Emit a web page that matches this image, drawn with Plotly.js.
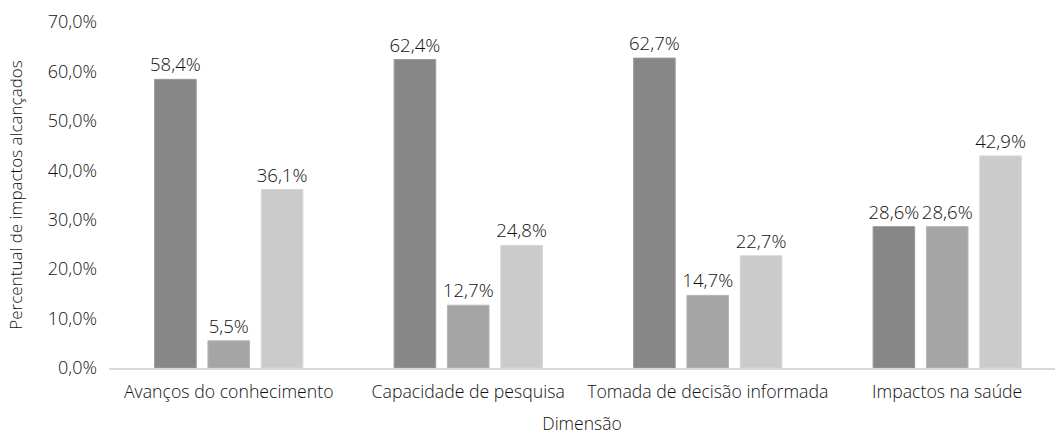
<!DOCTYPE html>
<html>
<head>
<meta charset="utf-8">
<script src="https://cdn.plot.ly/plotly-3.0.1.min.js"></script>
<style>html,body{margin:0;padding:0;background:#fff}#chart{width:1055px;height:435px}</style>
</head>
<body>
<div id="chart"></div>
<script>
const categories = ["Avanços do conhecimento", "Capacidade de pesquisa", "Tomada de decisão informada", "Impactos na saúde"];
const serie1 = [0.584, 0.624, 0.627, 0.286];
const serie2 = [0.055, 0.127, 0.147, 0.286];
const serie3 = [0.361, 0.248, 0.227, 0.429];
const yTickVals = [0, 0.1, 0.2, 0.3, 0.4, 0.5, 0.6, 0.7];

const fontFam = "Open Sans, Noto Sans, sans-serif";
const txtColor = "#111111";

function mk(vals, color, line) {
  return {
    type: "bar", x: categories, y: vals,
    marker: {color: color, line: {color: line, width: 1}},
    texttemplate: "%{y:.1%}", textposition: "outside", cliponaxis: false,
    constraintext: "none",
    textfont: {family: fontFam, size: 18.6, color: txtColor, weight: 300},
    hoverinfo: "skip", showlegend: false
  };
}

const data = [
  mk(serie1, "#878787", "#9a9a9a"),
  mk(serie2, "#a5a5a5", "#b5b5b5"),
  mk(serie3, "#cbcbcb", "#d6d6d6")
];

const layout = {
  width: 1055, height: 435,
  margin: {l: 109, r: 0, t: 22, b: 67},
  paper_bgcolor: "#fff", plot_bgcolor: "#fff",
  separators: ",.",
  barmode: "group", bargap: 0.332, bargroupgap: 0.22,
  font: {family: fontFam, size: 17, color: txtColor, weight: 300},
  xaxis: {
    type: "category", range: [-0.5, 3.45],
    showline: true, linecolor: "#d9d9d9", linewidth: 2,
    ticks: "", showgrid: false, zeroline: false,
    ticklabelstandoff: 7,
    tickfont: {family: fontFam, size: 17.7, color: txtColor, weight: 300},
    title: {text: "Dimensão", font: {family: fontFam, size: 17.5, color: txtColor, weight: 300}, standoff: 17}
  },
  yaxis: {
    range: [0, 0.7], tickvals: yTickVals, tickformat: ".1%",
    showline: false, showgrid: false, zeroline: false, ticks: "",
    ticklabelstandoff: 11,
    tickfont: {family: fontFam, size: 18, color: txtColor, weight: 300},
    title: {text: "Percentual de impactos alcançados", font: {family: fontFam, size: 17, color: txtColor, weight: 300}, standoff: 20}
  }
};

Plotly.newPlot("chart", data, layout, {displayModeBar: false, staticPlot: true});
</script>
</body>
</html>
